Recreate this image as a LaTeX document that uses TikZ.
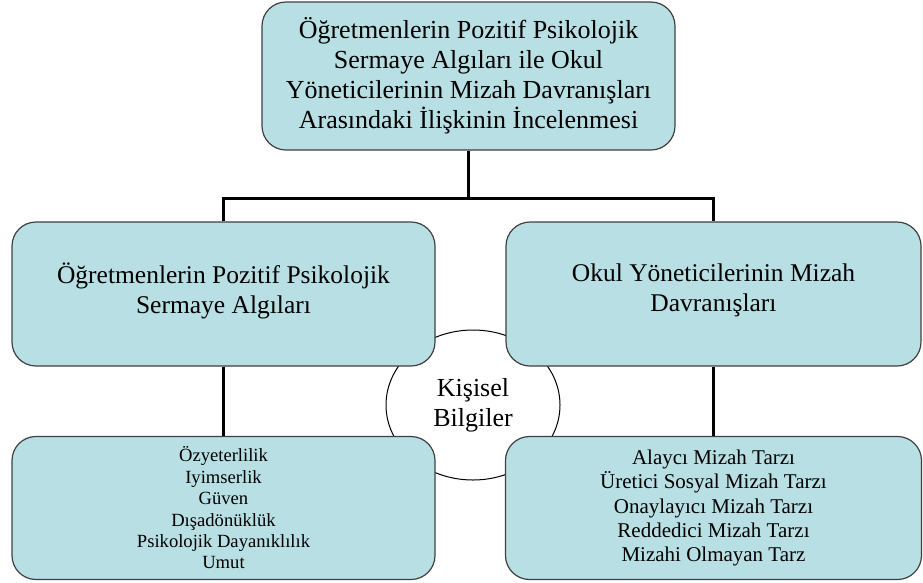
\documentclass[tikz,border=0pt]{standalone}
\usepackage{fontspec}
\setmainfont{Liberation Serif}
\usepackage{tikz}
\usetikzlibrary{shapes.geometric}
\definecolor{kutumavi}{RGB}{184,223,227}

\begin{document}
\begin{tikzpicture}[
                level 1/.style={level distance=218pt, sibling distance=490pt},
                level 2/.style={level distance=214pt},
                kutu/.style={draw=black!75, line width=1.2pt, fill=kutumavi, rounded corners=24pt, align=center, inner sep=0pt},
                edge from parent/.style={draw, line width=3.5pt},
                edge from parent path={(\tikzparentnode.south) -- ++(0,-48pt) -| (\tikzchildnode.north)}
            ]
            \useasboundingbox (0,0) rectangle (923pt,-582pt);

            % Ortadaki elips
            \node[draw, ellipse, fill=white, line width=1pt, minimum width=174pt, minimum height=150pt,
                  inner sep=0pt, align=center, font=\fontsize{26}{30}\selectfont] (kisisel) at (473pt,-405pt) {Kişisel\\Bilgiler};

            % Ana kutu
            \node[kutu, minimum width=413pt, minimum height=148pt, font=\fontsize{26}{30}\selectfont] (ana) at (468.5pt,-76pt)
                {Öğretmenlerin Pozitif Psikolojik\\Sermaye Algıları ile Okul\\Yöneticilerinin Mizah Davranışları\\Arasındaki İlişkinin İncelenmesi}
            % Düzey 1 : iki değişken
            child { node[kutu, minimum width=423pt, minimum height=144pt, font=\fontsize{25.5}{30}\selectfont] (sermaye)
                        {Öğretmenlerin Pozitif Psikolojik\\Sermaye Algıları\\[-18pt]}
                    % Düzey 2 : alt boyutlar
                    child { node[kutu, minimum width=423pt, minimum height=143pt, font=\fontsize{18.6}{21.4}\selectfont] (boyutlar)
                        {Özyeterlilik\\Iyimserlik\\Güven\\Dışadönüklük\\Psikolojik Dayanıklılık\\Umut} }
                }
            child { node[kutu, minimum width=415pt, minimum height=144pt, font=\fontsize{25.5}{30}\selectfont] (mizah)
                        {Okul Yöneticilerinin Mizah\\Davranışları\\[-18pt]}
                    child { node[kutu, minimum width=416pt, minimum height=143pt, font=\fontsize{21}{24.3}\selectfont] (tarzlar)
                        {Alaycı Mizah Tarzı\\Üretici Sosyal Mizah Tarzı\\Onaylayıcı Mizah Tarzı\\Reddedici Mizah Tarzı\\Mizahi Olmayan Tarz} }
                };

        \end{tikzpicture}
\end{document}
